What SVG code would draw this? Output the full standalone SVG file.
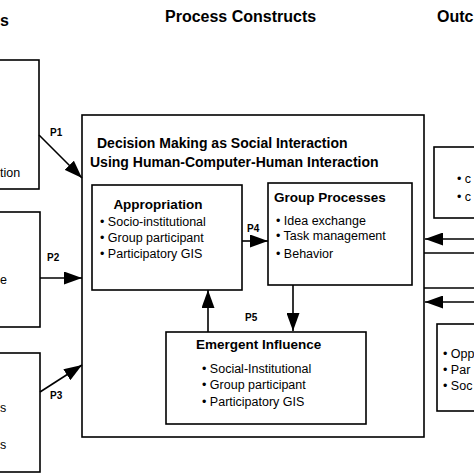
<svg xmlns="http://www.w3.org/2000/svg" width="474" height="474" viewBox="0 0 474 474">
<style>
text{font-family:"Liberation Sans",Arial,sans-serif;fill:#000}
.hd{font-size:16px;font-weight:bold}
.tt{font-size:14px;font-weight:bold}
.bt{font-size:13.5px;font-weight:bold}
.it{font-size:12.5px}
.pl{font-size:10px;font-weight:bold}
.box{fill:#fff;stroke:#000;stroke-width:1.6}
.cn{stroke:#000;stroke-width:1.6;fill:none}
</style>
<defs>
<marker id="ah" viewBox="0 0 18 13" refX="18" refY="6.5" markerWidth="18" markerHeight="13" markerUnits="userSpaceOnUse" orient="auto">
<path d="M0,0 L18,6.5 L0,13 z" fill="#000"/>
</marker>
</defs>
<rect width="474" height="474" fill="#fff"/>
<g id="headers">
<text class="hd" x="0" y="26">s</text>
<text class="hd" x="165" y="22">Process Constructs</text>
<text class="hd" x="437" y="22">Outc</text>
</g>
<g id="left1"><rect class="box" x="-2" y="60" width="41" height="129"/><text class="it" x="0" y="177">tion</text></g>
<g id="left2"><rect class="box" x="-2" y="212" width="42" height="115"/><text class="it" x="0" y="284">e</text></g>
<g id="left3"><rect class="box" x="-2" y="353" width="42" height="119"/><text class="it" x="0" y="412">s</text><text class="it" x="0" y="449">s</text></g>
<g id="main">
<rect class="box" x="82" y="115" width="342" height="322"/>
<text class="tt" x="97" y="148">Decision Making as Social Interaction</text>
<text class="tt" x="90" y="167">Using Human-Computer-Human Interaction</text>
</g>
<g id="appropriation">
<rect class="box" x="92" y="185" width="150" height="105"/>
<text class="bt" x="158" y="209" text-anchor="middle">Appropriation</text>
<text class="it" x="100" y="226">• Socio-institutional</text>
<text class="it" x="100" y="242">• Group participant</text>
<text class="it" x="100" y="258">• Participatory GIS</text>
</g>
<g id="group">
<rect class="box" x="268" y="183" width="144" height="102"/>
<text class="bt" x="274" y="202">Group Processes</text>
<text class="it" x="276" y="225">• Idea exchange</text>
<text class="it" x="276" y="240">• Task management</text>
<text class="it" x="276" y="258">• Behavior</text>
</g>
<g id="emergent">
<rect class="box" x="166" y="332" width="200" height="92"/>
<text class="bt" x="196" y="349">Emergent Influence</text>
<text class="it" x="202" y="373">• Social-Institutional</text>
<text class="it" x="202" y="389">• Group participant</text>
<text class="it" x="202" y="406">• Participatory GIS</text>
</g>
<g id="right1"><rect class="box" x="434" y="147" width="46" height="71"/><text class="it" x="457" y="183">• c</text><text class="it" x="457" y="201">• c</text></g>
<g id="right3"><rect class="box" x="437" y="324" width="43" height="87"/><text class="it" x="443" y="358">• Opp</text><text class="it" x="443" y="374">• Par</text><text class="it" x="443" y="390">• Soc</text></g>
<g id="connectors">
<line class="cn" x1="39" y1="135" x2="82" y2="178" marker-end="url(#ah)"/>
<line class="cn" x1="40" y1="278" x2="82" y2="278" marker-end="url(#ah)"/>
<line class="cn" x1="40" y1="392" x2="82" y2="365" marker-end="url(#ah)"/>
<line class="cn" x1="242" y1="241" x2="268" y2="241" marker-end="url(#ah)"/>
<line class="cn" x1="293" y1="285" x2="293" y2="331" marker-end="url(#ah)"/>
<line class="cn" x1="208" y1="332" x2="208" y2="290" marker-end="url(#ah)"/>
<line class="cn" x1="474" y1="239" x2="425" y2="239" marker-end="url(#ah)"/>
<line class="cn" x1="474" y1="302" x2="425" y2="302" marker-end="url(#ah)"/>
<line class="cn" x1="424" y1="253" x2="474" y2="253"/>
<line class="cn" x1="424" y1="288" x2="474" y2="288"/>
<text class="pl" x="50" y="136">P1</text>
<text class="pl" x="47" y="261">P2</text>
<text class="pl" x="50" y="399">P3</text>
<text class="pl" x="247" y="232">P4</text>
<text class="pl" x="245" y="321">P5</text>
</g>
</svg>
